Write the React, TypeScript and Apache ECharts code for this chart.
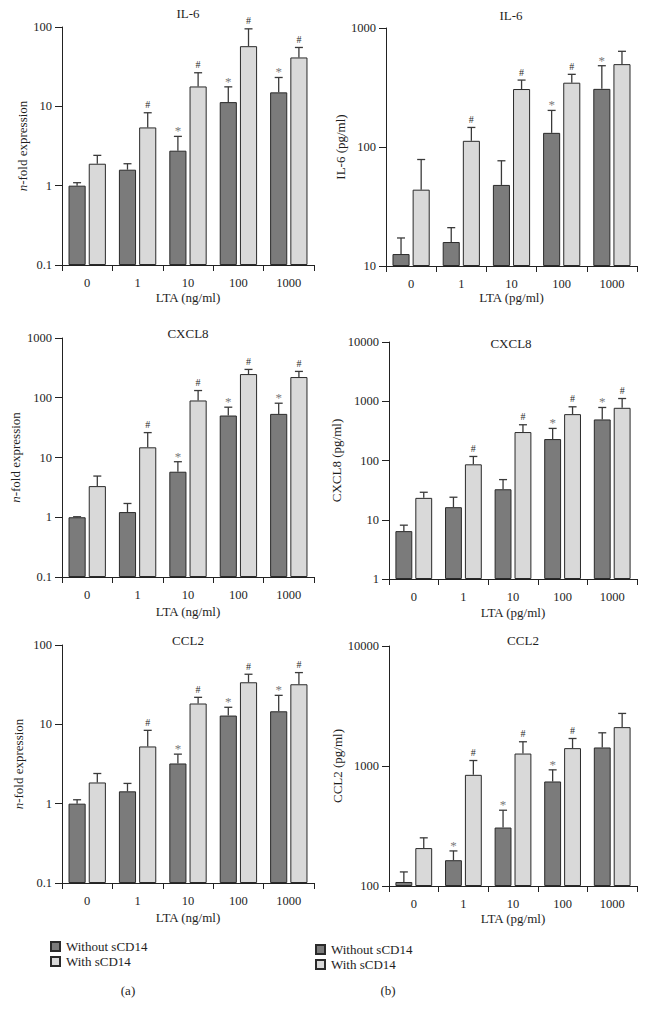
import React, { useEffect, useRef } from 'react';
import * as echarts from 'echarts';

const categories = ['0', '1', '10', '100', '1000'];
const seriesNames = ['Without sCD14', 'With sCD14'];

// (a) IL-6, n-fold expression
const il6FoldWithout = [1.0, 1.59, 2.76, 11.3, 15.0];
const il6FoldWithoutErr = [1.09, 1.89, 4.18, 17.6, 23.1];
const il6FoldWith = [1.89, 5.42, 17.8, 57.3, 41.3];
const il6FoldWithErr = [2.41, 8.3, 26.5, 94.8, 55.2];
const il6FoldWithoutMark = ['', '', '*', '*', '*'];
const il6FoldWithMark = ['', '#', '#', '#', '#'];

// (b) IL-6, pg/ml
const il6PgWithout = [12.6, 15.9, 48.0, 131.5, 308];
const il6PgWithoutErr = [17.2, 21.0, 76.6, 203, 482];
const il6PgWith = [43.8, 112.7, 307, 347, 497];
const il6PgWithErr = [78.5, 146, 365, 408, 637];
const il6PgWithoutMark = ['', '', '', '*', '*'];
const il6PgWithMark = ['', '#', '#', '#', ''];

// (a) CXCL8, n-fold expression
const cxcl8FoldWithout = [1.0, 1.22, 5.78, 50.4, 53.7];
const cxcl8FoldWithoutErr = [1.02, 1.7, 8.5, 69.5, 81];
const cxcl8FoldWith = [3.32, 14.8, 90, 249, 222];
const cxcl8FoldWithErr = [4.89, 26.1, 132, 298, 276];
const cxcl8FoldWithoutMark = ['', '', '*', '*', '*'];
const cxcl8FoldWithMark = ['', '#', '#', '#', '#'];

// (b) CXCL8, pg/ml
const cxcl8PgWithout = [6.43, 16.3, 32.7, 230, 493];
const cxcl8PgWithoutErr = [8.1, 24.0, 47.6, 348, 785];
const cxcl8PgWith = [23.4, 86.2, 302, 606, 775];
const cxcl8PgWithErr = [29.1, 117, 401, 806, 1112];
const cxcl8PgWithoutMark = ['', '', '', '*', '*'];
const cxcl8PgWithMark = ['', '#', '#', '#', '#'];

// (a) CCL2, n-fold expression
const ccl2FoldWithout = [1.0, 1.43, 3.21, 12.9, 14.6];
const ccl2FoldWithoutErr = [1.12, 1.8, 4.21, 16.4, 23.2];
const ccl2FoldWith = [1.85, 5.26, 18.3, 33.9, 32.0];
const ccl2FoldWithErr = [2.4, 8.4, 21.9, 42.8, 44.9];
const ccl2FoldWithoutMark = ['', '', '*', '*', '*'];
const ccl2FoldWithMark = ['', '#', '#', '#', '#'];

// (b) CCL2, pg/ml
const ccl2PgWithout = [108, 164, 307, 743, 1427];
const ccl2PgWithoutErr = [131, 196, 428, 929, 1891];
const ccl2PgWith = [207, 844, 1270, 1409, 2108];
const ccl2PgWithErr = [252, 1111, 1592, 1695, 2742];
const ccl2PgWithoutMark = ['', '*', '*', '*', ''];
const ccl2PgWithMark = ['', '#', '#', '#', ''];

const FONT = '"Liberation Serif", "DejaVu Serif", serif';
const DARK = '#7b7b7b';
const LIGHT = '#d9d9d9';
const EDGE = '#2a2a2a';
const TXT = '#1e1e1e';
const FS = 13;
const TICK_FS = 12.5;

type Panel = {
  title: string;
  titleX: number;
  titleY: number;
  grid: { left: number; top: number; width: number; height: number };
  min: number;
  max: number;
  yName: string;
  yNameGap: number;
  xName: string;
  xNameGap: number;
  without: number[];
  withoutErr: number[];
  withoutMark: string[];
  with: number[];
  withErr: number[];
  withMark: string[];
};

const panels: Panel[] = [
  {
    title: 'IL-6', titleX: 188, titleY: 13,
    grid: { left: 62, top: 27, width: 252, height: 238 },
    min: 0.1, max: 100, yName: '{i|n}-fold expression', yNameGap: 28,
    xName: 'LTA (ng/ml)', xNameGap: 26,
    without: il6FoldWithout, withoutErr: il6FoldWithoutErr, withoutMark: il6FoldWithoutMark,
    with: il6FoldWith, withErr: il6FoldWithErr, withMark: il6FoldWithMark,
  },
  {
    title: 'IL-6', titleX: 511, titleY: 15,
    grid: { left: 386, top: 28, width: 251, height: 238 },
    min: 10, max: 1000, yName: 'IL-6 (pg/ml)', yNameGap: 39,
    xName: 'LTA (pg/ml)', xNameGap: 25,
    without: il6PgWithout, withoutErr: il6PgWithoutErr, withoutMark: il6PgWithoutMark,
    with: il6PgWith, withErr: il6PgWithErr, withMark: il6PgWithMark,
  },
  {
    title: 'CXCL8', titleX: 188, titleY: 333,
    grid: { left: 62, top: 338, width: 252, height: 239 },
    min: 0.1, max: 1000, yName: '{i|n}-fold expression', yNameGap: 40,
    xName: 'LTA (ng/ml)', xNameGap: 28,
    without: cxcl8FoldWithout, withoutErr: cxcl8FoldWithoutErr, withoutMark: cxcl8FoldWithoutMark,
    with: cxcl8FoldWith, withErr: cxcl8FoldWithErr, withMark: cxcl8FoldWithMark,
  },
  {
    title: 'CXCL8', titleX: 511, titleY: 343,
    grid: { left: 389, top: 342, width: 248, height: 237 },
    min: 1, max: 10000, yName: 'CXCL8 (pg/ml)', yNameGap: 46,
    xName: 'LTA (pg/ml)', xNameGap: 27,
    without: cxcl8PgWithout, withoutErr: cxcl8PgWithoutErr, withoutMark: cxcl8PgWithoutMark,
    with: cxcl8PgWith, withErr: cxcl8PgWithErr, withMark: cxcl8PgWithMark,
  },
  {
    title: 'CCL2', titleX: 188, titleY: 640,
    grid: { left: 62, top: 645, width: 252, height: 238 },
    min: 0.1, max: 100, yName: '{i|n}-fold expression', yNameGap: 37,
    xName: 'LTA (ng/ml)', xNameGap: 28,
    without: ccl2FoldWithout, withoutErr: ccl2FoldWithoutErr, withoutMark: ccl2FoldWithoutMark,
    with: ccl2FoldWith, withErr: ccl2FoldWithErr, withMark: ccl2FoldWithMark,
  },
  {
    title: 'CCL2', titleX: 523, titleY: 640,
    grid: { left: 389, top: 646, width: 248, height: 240 },
    min: 100, max: 10000, yName: 'CCL2 (pg/ml)', yNameGap: 41,
    xName: 'LTA (pg/ml)', xNameGap: 26,
    without: ccl2PgWithout, withoutErr: ccl2PgWithoutErr, withoutMark: ccl2PgWithoutMark,
    with: ccl2PgWith, withErr: ccl2PgWithErr, withMark: ccl2PgWithMark,
  },
];

const BAR_RATIO = 0.34;
const GAP_RATIO = 0.18;

function errorSeries(idx: number, vals: number[], errs: number[], marks: string[], sign: number) {
  return {
    type: 'custom',
    name: 'err' + idx + '_' + sign,
    xAxisIndex: idx,
    yAxisIndex: idx,
    z: 5,
    itemStyle: { color: '#333' },
    data: vals.map((v, i) => [i, v, errs[i]]),
    renderItem: (params: any, api: any) => {
      const cat = api.value(0);
      const val = api.value(1);
      const err = api.value(2);
      const base = api.coord([cat, val]);
      const top = api.coord([cat, err]);
      const band = api.size([1, 0])[0];
      const off = (sign * band * BAR_RATIO * (1 + GAP_RATIO)) / 2;
      const x = base[0] + off;
      const cap = 4;
      const mark = marks[params.dataIndex];
      const children: any[] = [
        { type: 'line', shape: { x1: x, y1: base[1], x2: x, y2: top[1] }, style: { stroke: '#3a3a3a', lineWidth: 1.3, fill: null } },
        { type: 'line', shape: { x1: x - cap, y1: top[1], x2: x + cap, y2: top[1] }, style: { stroke: '#3a3a3a', lineWidth: 1.3, fill: null } },
      ];
      if (mark) {
        children.push({
          type: 'text',
          style: {
            text: mark,
            x,
            y: mark === '*' ? top[1] + 1 : top[1] - 3,
            align: 'center',
            verticalAlign: 'bottom',
            fontSize: mark === '*' ? 13 : 10,
            fontFamily: FONT,
            fill: mark === '*' ? '#7a7a7a' : '#2a2a2a',
          },
        });
      }
      return { type: 'group', children };
    },
  };
}

function buildOption() {
  const grid = panels.map((p) => ({ ...p.grid, containLabel: false }));
  const xAxis = panels.map((p, i) => ({
    type: 'category',
    gridIndex: i,
    data: categories,
    name: p.xName,
    nameLocation: 'middle',
    nameGap: p.xNameGap,
    nameTextStyle: { fontFamily: FONT, fontSize: FS, color: TXT },
    axisLine: { lineStyle: { color: '#222', width: 1 } },
    axisTick: { show: true, length: 6, lineStyle: { color: '#222' } },
    axisLabel: { fontFamily: FONT, fontSize: TICK_FS, color: TXT, margin: 11 },
  }));
  const yAxis = panels.map((p, i) => ({
    type: 'log',
    logBase: 10,
    gridIndex: i,
    min: p.min,
    max: p.max,
    startValue: p.min,
    name: p.yName,
    nameLocation: 'middle',
    nameRotate: 90,
    nameGap: p.yNameGap,
    nameTextStyle: {
      fontFamily: FONT,
      fontSize: FS,
      color: TXT,
      rich: { i: { fontStyle: 'italic', fontFamily: FONT, fontSize: FS, color: TXT } },
    },
    splitLine: { show: false },
    axisLine: { show: true, lineStyle: { color: '#222', width: 1 } },
    axisTick: { show: true, length: 7, lineStyle: { color: '#222' } },
    axisLabel: {
      fontFamily: FONT,
      fontSize: TICK_FS,
      color: TXT,
      margin: 10,
      formatter: (v: number) => String(v),
    },
  }));

  const series: any[] = [];
  panels.forEach((p, i) => {
    series.push({
      type: 'bar',
      name: seriesNames[0],
      xAxisIndex: i,
      yAxisIndex: i,
      data: p.without,
      barWidth: BAR_RATIO * 100 + '%',
      barGap: GAP_RATIO * 100 + '%',
      itemStyle: { color: DARK, borderColor: EDGE, borderWidth: 1 },
    });
    series.push({
      type: 'bar',
      name: seriesNames[1],
      xAxisIndex: i,
      yAxisIndex: i,
      data: p.with,
      barWidth: BAR_RATIO * 100 + '%',
      barGap: GAP_RATIO * 100 + '%',
      itemStyle: { color: LIGHT, borderColor: EDGE, borderWidth: 1 },
    });
  });
  panels.forEach((p, i) => {
    series.push(errorSeries(i, p.without, p.withoutErr, p.withoutMark, -1));
    series.push(errorSeries(i, p.with, p.withErr, p.withMark, 1));
  });

  const legendCommon = {
    orient: 'vertical',
    data: seriesNames,
    icon: 'rect',
    itemWidth: 9,
    itemHeight: 9,
    itemGap: 2,
    selectedMode: false,
    textStyle: { fontFamily: FONT, fontSize: FS, color: TXT, padding: [0, 0, 0, 1] },
    padding: 0,
  };

  const graphic: any[] = panels.map((p) => ({
    type: 'text',
    x: p.titleX,
    y: p.titleY,
    style: {
      text: p.title,
      align: 'center',
      verticalAlign: 'middle',
      fontFamily: FONT,
      fontSize: FS,
      fill: TXT,
    },
  }));
  graphic.push({
    type: 'text', x: 128, y: 990,
    style: { text: '(a)', align: 'center', verticalAlign: 'middle', fontFamily: FONT, fontSize: FS, fill: TXT },
  });
  graphic.push({
    type: 'text', x: 388, y: 990,
    style: { text: '(b)', align: 'center', verticalAlign: 'middle', fontFamily: FONT, fontSize: FS, fill: TXT },
  });

  return {
    animation: false,
    backgroundColor: '#ffffff',
    grid,
    xAxis,
    yAxis,
    series,
    legend: [
      { ...legendCommon, left: 50, top: 940 },
      { ...legendCommon, left: 315, top: 943 },
    ],
    graphic,
  };
}

export default function App() {
  const ref = useRef<HTMLDivElement>(null);
  useEffect(() => {
    if (!ref.current) return;
    const chart = echarts.init(ref.current, undefined, { renderer: 'svg' });
    chart.setOption(buildOption() as any);
    return () => chart.dispose();
  }, []);
  return (
    <div
      ref={ref}
      style={{ position: 'absolute', left: 0, top: 0, width: 646, height: 1016, background: '#fff' }}
    />
  );
}
